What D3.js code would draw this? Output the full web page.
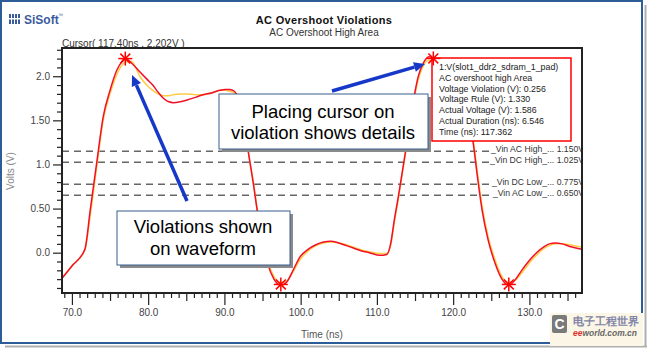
<!DOCTYPE html>
<html><head><meta charset="utf-8">
<script src="https://cdn.jsdelivr.net/npm/d3@7/dist/d3.min.js"></script>
<style>
body{margin:0;background:#fff}
svg{display:block}
text{font-family:"Liberation Sans",Arial,sans-serif}
</style>
</head><body>
<svg id="c" width="647" height="348"></svg>
<script>
// ---- data ----
const timeNs = [68.7,70,71.7,72.4,73.3,74.1,75.0,75.9,76.5,77.0,77.8,78.9,79.8,80.6,81.3,82.0,82.7,83.3,84.2,85.1,86.2,87.2,88.3,89.4,90.1,90.7,91.3,91.8,92.3,92.8,93.3,93.8,94.3,95.0,95.7,96.5,97.4,98.2,99.0,99.9,101.0,102.0,103.0,103.9,105.0,106.0,107.0,108.0,109.0,110.4,111.3,111.8,112.3,112.8,113.3,114.0,114.8,115.4,116.1,116.8,117.4,118.3,119.3,120.3,121.2,122.0,122.6,123.2,123.8,124.6,125.5,126.4,127.3,128.2,129.0,129.7,130.7,131.8,132.6,133.4,134.3,135.3,136.9];
const voltsRed = [-0.29,-0.15,0.04,0.48,1.05,1.54,1.84,2.07,2.16,2.20,2.15,2.05,1.97,1.90,1.82,1.75,1.71,1.70,1.71,1.73,1.76,1.79,1.81,1.84,1.85,1.85,1.83,1.75,1.55,1.32,1.05,0.78,0.48,0.15,-0.13,-0.30,-0.37,-0.33,-0.20,-0.05,0.04,0.09,0.12,0.13,0.11,0.08,0.05,0.02,0.00,-0.03,-0.02,0.10,0.38,0.63,0.90,1.28,1.73,1.99,2.15,2.22,2.20,2.10,2.00,1.90,1.75,1.50,1.26,0.85,0.48,0.14,-0.12,-0.30,-0.37,-0.30,-0.20,-0.12,-0.02,0.06,0.10,0.11,0.10,0.07,0.04];
const voltsOrange = [-0.29,-0.15,0.03,0.42,1.00,1.50,1.80,2.02,2.12,2.16,2.17,2.00,1.90,1.84,1.80,1.78,1.78,1.79,1.80,1.80,1.79,1.79,1.81,1.84,1.84,1.83,1.81,1.74,1.56,1.33,1.06,0.80,0.50,0.18,-0.10,-0.27,-0.34,-0.32,-0.22,-0.08,0.02,0.08,0.11,0.12,0.11,0.09,0.06,0.03,0.01,-0.01,-0.01,0.08,0.35,0.60,0.88,1.26,1.70,1.95,2.12,2.18,2.17,2.08,1.98,1.88,1.74,1.52,1.30,0.90,0.53,0.18,-0.08,-0.27,-0.34,-0.31,-0.23,-0.15,-0.05,0.04,0.08,0.10,0.10,0.09,0.06];
const violationT = [77.0, 97.4, 117.4, 127.3];
const violationV = [2.20, -0.36, 2.202, -0.36];
const ruleNames = ["_Vin AC High_... 1.150V","_Vin DC High_... 1.025V","_Vin DC Low_... 0.775V","_Vin AC Low_... 0.650V"];
const ruleValues = [1.150, 1.025, 0.775, 0.650];
const xTickValues = [70,80,90,100,110,120,130];
const xTickLabels = ["70.0","80.0","90.0","100.0","110.0","120.0","130.0"];
const yTickValues = [0,0.5,1.0,1.5,2.0];
const yTickLabels = ["0.0","0.50","1.0","1.50","2.0"];
const infoLines = ["1:V(slot1_ddr2_sdram_1_pad)","AC overshoot high Area","Voltage Violation (V): 0.256","Voltage Rule (V): 1.330","Actual Voltage (V): 1.586","Actual Duration (ns): 6.546","Time (ns): 117.362"];

// ---- layout ----
const svg = d3.select("#c");
const L=62, R=582, T=48, B=293;
const x = d3.scaleLinear().domain([68.7,136.9]).range([L,R]);
const y = d3.scaleLinear().domain([-0.457,2.32]).range([B,T]);

// outer frame
svg.append("line").attr("x1",5).attr("x2",647).attr("y1",346.5).attr("y2",346.5).attr("stroke","#b0b0b0").attr("stroke-width",2);
svg.append("line").attr("x1",645.5).attr("x2",645.5).attr("y1",5).attr("y2",347).attr("stroke","#b0b0b0").attr("stroke-width",2);
svg.append("rect").attr("x",1).attr("y",1).attr("width",641).attr("height",342).attr("fill","none").attr("stroke","#2d5d96").attr("stroke-width",2);

// logo
const logo = svg.append("g").attr("fill","#3b5b9c");
for (let i=0;i<4;i++){
  logo.append("rect").attr("x",9+i*3).attr("y",14).attr("width",2).attr("height",10);
}
logo.append("rect").attr("x",9).attr("y",18).attr("width",11).attr("height",1.5).attr("fill","#fff");
logo.append("text").attr("x",24).attr("y",24).attr("font-size",12).attr("font-weight","bold").text("SiSoft");
logo.append("text").attr("x",58).attr("y",17).attr("font-size",5).text("™");

// titles
svg.append("text").attr("x",324).attr("y",24).attr("text-anchor","middle").attr("font-size",11).attr("font-weight","bold").attr("letter-spacing",0.3).attr("fill","#111").text("AC Overshoot Violations");
svg.append("text").attr("x",324).attr("y",36).attr("text-anchor","middle").attr("font-size",10).attr("fill","#333").text("AC Overshoot High Area");
svg.append("text").attr("x",62).attr("y",47).attr("font-size",10).attr("fill","#333").text("Cursor( 117.40ns , 2.202V )");

// axes
const xMinor = d3.range(69,137,1).filter(v=>v%5!==0);
const xMid = d3.range(70,137,5).filter(v=>v%10!==0);
svg.append("g").attr("transform",`translate(0,${B})`).call(d3.axisBottom(x).tickValues(xMinor).tickSize(5).tickFormat("")).call(g=>g.select(".domain").remove());
svg.append("g").attr("transform",`translate(0,${B})`).call(d3.axisBottom(x).tickValues(xMid).tickSize(8).tickFormat("")).call(g=>g.select(".domain").remove());
const xa = svg.append("g").attr("transform",`translate(0,${B})`).call(d3.axisBottom(x).tickValues(xTickValues).tickSize(12).tickPadding(4).tickFormat((d,i)=>xTickLabels[i]));
xa.select(".domain").remove();
xa.selectAll("text").attr("font-size",10).attr("fill","#444").attr("font-family","Liberation Sans, Arial");

const yMinor = d3.range(-4,24,1).map(v=>v/10).filter(v=>Math.abs(v*2-Math.round(v*2))>1e-6);
svg.append("g").attr("transform",`translate(${L},0)`).call(d3.axisLeft(y).tickValues(yMinor).tickSize(5).tickFormat("")).call(g=>g.select(".domain").remove());
const ya = svg.append("g").attr("transform",`translate(${L},0)`).call(d3.axisLeft(y).tickValues(yTickValues).tickSize(9).tickPadding(3).tickFormat((d,i)=>yTickLabels[i]));
ya.select(".domain").remove();
ya.selectAll("text").attr("font-size",10).attr("fill","#444").attr("font-family","Liberation Sans, Arial");
svg.selectAll(".tick line").attr("stroke","#222").attr("stroke-width",1.2);

svg.append("text").attr("transform","translate(14,171) rotate(-90)").attr("text-anchor","middle").attr("font-size",10).attr("fill","#888").text("Volts (V)");
svg.append("text").attr("x",322).attr("y",338).attr("text-anchor","middle").attr("font-size",10).attr("fill","#555").text("Time (ns)");

// clip
svg.append("clipPath").attr("id","clip").append("rect").attr("x",L).attr("y",T).attr("width",R-L).attr("height",B-T);
const plot = svg.append("g").attr("clip-path","url(#clip)");

// rule lines + labels (slightly condensed text)
const sx = 0.92;
ruleValues.forEach((v,i)=>{
  const g = plot.append("g").attr("transform",`translate(${R+2},${y(v)+0.5}) scale(${sx},1)`);
  const t = g.append("text").attr("x",0).attr("y",0).attr("text-anchor","end").attr("font-size",9.4).attr("fill","#333").text(ruleNames[i]);
  const w = t.node().getComputedTextLength()*sx;
  plot.append("line").attr("x1",L).attr("x2",R+2-w-1).attr("y1",y(v)).attr("y2",y(v))
    .attr("stroke","#666").attr("stroke-width",1.5).attr("stroke-dasharray","7,5");
});

// waveforms
const line = vals => d3.line().x((d,i)=>x(timeNs[i])).y(d=>y(d)).curve(d3.curveMonotoneX)(vals);
plot.append("path").attr("d",line(voltsOrange)).attr("fill","none").attr("stroke","#ffcc44").attr("stroke-width",1.5);
plot.append("path").attr("d",line(voltsRed)).attr("fill","none").attr("stroke","#f0102a").attr("stroke-width",1.5);

// info box
svg.append("rect").attr("x",432).attr("y",58).attr("width",139).attr("height",83).attr("fill","#fff").attr("stroke","#ff0000").attr("stroke-width",1.5);
const info = svg.append("g").attr("transform",`translate(439,0) scale(${sx},1)`);
infoLines.forEach((s,i)=>{
  info.append("text").attr("x",0).attr("y",70+i*10.8).attr("font-size",9.6).attr("fill","#222").text(s);
});

// violation stars
violationT.forEach((t,i)=>{
  const g = svg.append("g").attr("transform",`translate(${x(t)},${y(violationV[i])})`);
  for (let k=0;k<4;k++){
    const a = k*Math.PI/4, r=7;
    g.append("line").attr("x1",-r*Math.cos(a)).attr("y1",-r*Math.sin(a)).attr("x2",r*Math.cos(a)).attr("y2",r*Math.sin(a))
      .attr("stroke","#ff0000").attr("stroke-width",1.5);
  }
});

// plot border
svg.append("rect").attr("x",L).attr("y",T).attr("width",R-L).attr("height",B-T).attr("fill","none").attr("stroke","#222").attr("stroke-width",2);

// arrows
function arrow(x1,y1,x2,y2){
  const ang = Math.atan2(y2-y1,x2-x1), hl=11, hw=5;
  const bx = x2-hl*Math.cos(ang), by = y2-hl*Math.sin(ang);
  svg.append("line").attr("x1",x1).attr("y1",y1).attr("x2",bx).attr("y2",by).attr("stroke","#1638c8").attr("stroke-width",3.5);
  const px = -Math.sin(ang)*hw, py = Math.cos(ang)*hw;
  svg.append("path").attr("d",`M${x2},${y2}L${bx+px},${by+py}L${bx-px},${by-py}Z`).attr("fill","#1638c8");
}
arrow(187,201,132,75);
arrow(332,91,425,64);

// callouts
function callout(x0,y0,w,h,lines,cx,ys){
  svg.append("rect").attr("x",x0+3).attr("y",y0+3).attr("width",w).attr("height",h).attr("fill","#8a8a8a");
  svg.append("rect").attr("x",x0).attr("y",y0).attr("width",w).attr("height",h).attr("fill","#fff").attr("stroke","#3a5f8c").attr("stroke-width",1);
  lines.forEach((s,i)=>svg.append("text").attr("x",cx).attr("y",ys[i]).attr("text-anchor","middle").attr("font-size",18.5).attr("fill","#000").text(s));
}
callout(219,94,209,55,["Placing cursor on","violation shows details"],323,[118,139]);
callout(117,211,173,54,["Violations shown","on waveform"],203,[233,255]);

// watermark
const wm = svg.append("g");
wm.append("rect").attr("x",550).attr("y",313).attr("width",93).attr("height",33).attr("fill","#fbf6e6");
wm.append("rect").attr("x",552).attr("y",315).attr("width",15).attr("height",18).attr("rx",2).attr("fill","#7a7a7a");
wm.append("text").attr("x",559.5).attr("y",329).attr("text-anchor","middle").attr("font-size",14).attr("font-weight","bold").attr("fill","#fff").text("C");
wm.append("text").attr("x",573).attr("y",325).attr("font-size",11).attr("font-weight","bold").attr("fill","#7f84a8").attr("font-family","Noto Sans CJK SC").text("电子工程世界");
const ee = wm.append("text").attr("x",573).attr("y",336).attr("font-size",9).attr("font-style","italic").attr("font-weight","bold")
  .attr("textLength",64).attr("lengthAdjust","spacingAndGlyphs");
ee.append("tspan").attr("fill","#e0302a").text("ee");
ee.append("tspan").attr("fill","#666").text("world.com.cn");
</script>
</body></html>
